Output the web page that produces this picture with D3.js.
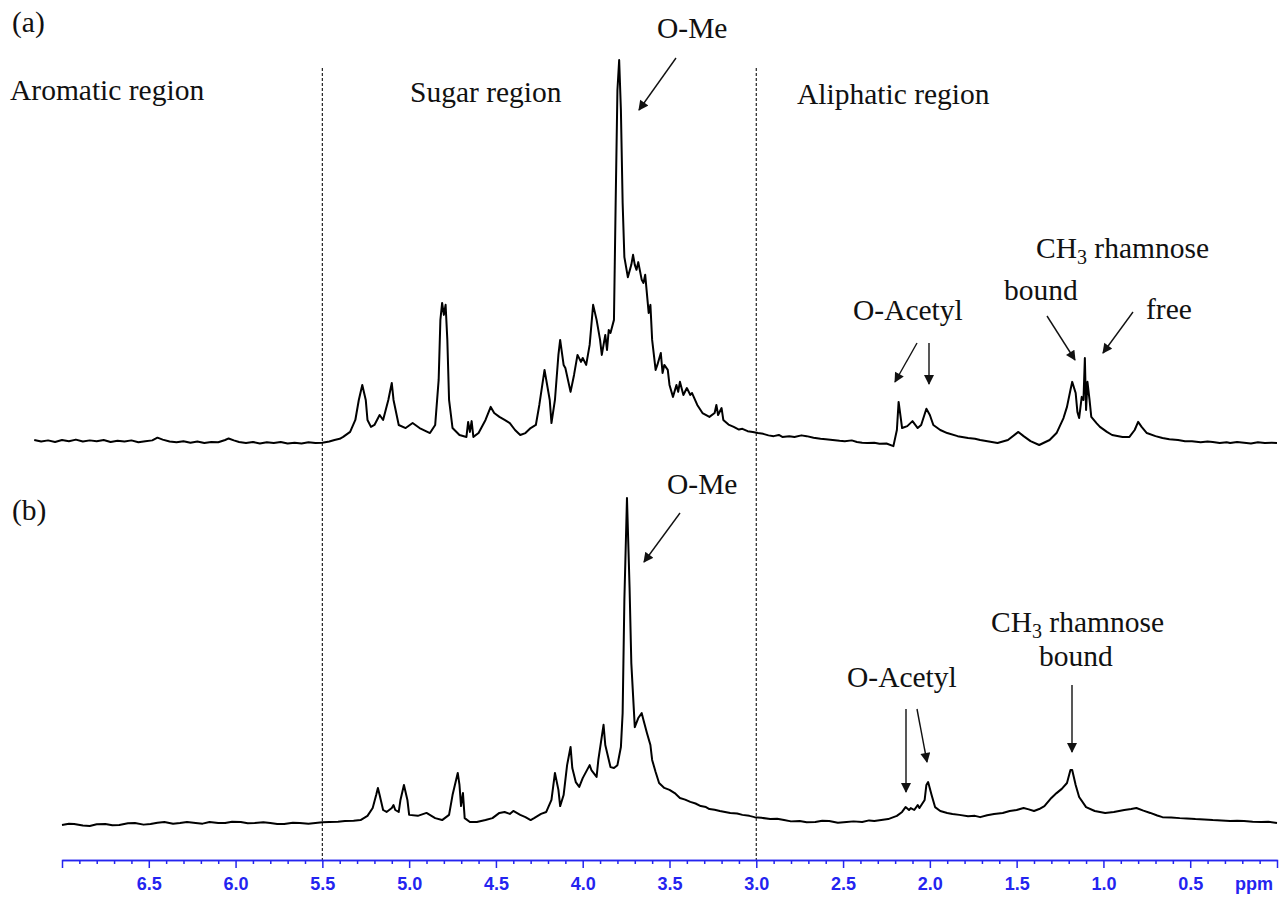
<!DOCTYPE html>
<html>
<head>
<meta charset="utf-8">
<script src="https://cdn.jsdelivr.net/npm/d3@7"></script>
<style>
  html, body { margin: 0; padding: 0; background: #fff; }
  svg { display: block; }
  .lbl { font-family: "Liberation Serif", "Times New Roman", serif; font-size: 29.5px; fill: #111; }
  .axis text { font-family: "Liberation Sans", Arial, sans-serif; font-weight: bold; font-size: 18px; fill: #2424f0; }
  .axis path, .axis line { stroke: #2424f0; stroke-width: 1.5; }
</style>
</head>
<body>
<svg id="chart"></svg>
<script>
// Spectrum (a): [ppm, relative intensity]
const specA = [
  [7.16, 1.3], [7.12, 0.9], [7.08, 1.2], [7.04, 0.8], [7.0, 1.3], [6.96, 1.0], [6.92, 1.4], [6.88, 0.9],
  [6.84, 1.2], [6.8, 1.0], [6.76, 1.3], [6.72, 0.8], [6.68, 1.1], [6.64, 0.9], [6.6, 1.2], [6.56, 0.7],
  [6.52, 1.0], [6.48, 1.2], [6.45, 1.9], [6.42, 1.4], [6.38, 0.9], [6.34, 0.7], [6.3, 1.0], [6.26, 0.6],
  [6.22, 0.9], [6.18, 0.5], [6.14, 0.8], [6.1, 0.7], [6.06, 1.3], [6.04, 1.7], [6.01, 1.2], [5.98, 0.8],
  [5.94, 0.5], [5.9, 0.8], [5.86, 0.4], [5.82, 0.7], [5.78, 0.5], [5.74, 0.8], [5.7, 0.4], [5.66, 0.6],
  [5.62, 0.4], [5.58, 0.7], [5.54, 0.5], [5.5, 0.6], [5.46, 0.9], [5.43, 1.3], [5.4, 1.6], [5.38, 2.1],
  [5.34, 3.4], [5.31, 6.5], [5.29, 11.7], [5.27, 15.6], [5.25, 11.7], [5.24, 6.5], [5.22, 4.7], [5.2, 5.2],
  [5.17, 7.8], [5.15, 6.5], [5.12, 11.7], [5.1, 16.1], [5.09, 11.7], [5.06, 5.2], [5.02, 4.4], [4.98, 5.7],
  [4.94, 4.4], [4.88, 3.1], [4.85, 5.2], [4.83, 16.9], [4.82, 32.5], [4.81, 36.9], [4.8, 33.8], [4.79, 36.4],
  [4.78, 27.3], [4.77, 11.7], [4.75, 4.4], [4.71, 2.6], [4.67, 2.1], [4.66, 6.0], [4.65, 3.4], [4.64, 6.2],
  [4.63, 2.1], [4.6, 3.1], [4.56, 6.5], [4.53, 9.9], [4.51, 8.3], [4.48, 7.3], [4.45, 6.5], [4.42, 5.7],
  [4.39, 3.9], [4.36, 2.6], [4.33, 3.1], [4.3, 4.4], [4.27, 5.2], [4.25, 10.4], [4.22, 19.5], [4.19, 11.7],
  [4.18, 5.7], [4.16, 11.7], [4.14, 23.4], [4.13, 27.3], [4.11, 20.8], [4.1, 20.0], [4.07, 13.8], [4.05, 18.2],
  [4.03, 23.4], [4.01, 21.6], [4.0, 22.6], [3.98, 20.8], [3.96, 26.0], [3.94, 36.4], [3.92, 32.5], [3.9, 27.3],
  [3.89, 23.4], [3.87, 28.6], [3.86, 24.7], [3.85, 29.9], [3.84, 29.1], [3.82, 32.5], [3.81, 63.6], [3.8, 92.2],
  [3.79, 100], [3.78, 87.0], [3.77, 62.9], [3.76, 48.8], [3.74, 43.6], [3.72, 46.8], [3.71, 49.4], [3.7, 46.8],
  [3.69, 45.5], [3.68, 47.5], [3.66, 42.9], [3.65, 42.1], [3.64, 44.2], [3.62, 34.3], [3.61, 36.4], [3.6, 27.3],
  [3.58, 19.5], [3.57, 20.8], [3.55, 23.9], [3.54, 18.7], [3.53, 20.8], [3.51, 19.5], [3.5, 15.6], [3.48, 12.5],
  [3.46, 15.6], [3.45, 13.8], [3.44, 16.4], [3.42, 13.0], [3.4, 14.8], [3.38, 13.0], [3.37, 13.5], [3.34, 10.4],
  [3.31, 8.3], [3.27, 7.3], [3.24, 8.3], [3.23, 10.4], [3.22, 7.8], [3.2, 9.6], [3.19, 6.5], [3.16, 5.3],
  [3.13, 4.7], [3.1, 4.0], [3.08, 4.2], [3.05, 3.6], [3.02, 3.4], [2.99, 3.1], [2.96, 2.9], [2.93, 2.5],
  [2.9, 2.3], [2.87, 2.6], [2.85, 2.1], [2.81, 2.3], [2.78, 2.1], [2.74, 2.5], [2.71, 2.3], [2.67, 1.9],
  [2.63, 1.6], [2.6, 1.5], [2.56, 1.3], [2.52, 1.1], [2.49, 1.0], [2.45, 1.2], [2.42, 0.8], [2.39, 0.6],
  [2.36, 0.5], [2.32, 0.6], [2.29, 0.3], [2.25, 0.4], [2.21, -0.3], [2.19, 3.9], [2.18, 11.2], [2.17, 7.8],
  [2.16, 4.4], [2.13, 4.9], [2.1, 6.2], [2.07, 4.4], [2.05, 5.2], [2.02, 9.4], [2.0, 7.8], [1.98, 5.2],
  [1.94, 3.9], [1.9, 3.1], [1.84, 2.3], [1.78, 1.8], [1.74, 1.6], [1.71, 1.3], [1.66, 0.9], [1.61, 0.5],
  [1.55, 1.3], [1.49, 3.4], [1.46, 2.3], [1.42, 1.0], [1.37, 0.0], [1.31, 1.3], [1.27, 3.1], [1.23, 7.0],
  [1.21, 9.9], [1.19, 14.3], [1.18, 16.4], [1.16, 13.5], [1.15, 8.6], [1.14, 7.0], [1.125, 12.5], [1.115, 11.7],
  [1.107, 22.6], [1.1, 9.1], [1.092, 16.4], [1.08, 11.7], [1.07, 7.3], [1.04, 5.7], [1.02, 4.7], [0.98, 3.4],
  [0.95, 2.6], [0.89, 2.1], [0.85, 2.1], [0.82, 3.9], [0.8, 6.0], [0.78, 4.7], [0.75, 3.1], [0.7, 2.3],
  [0.66, 1.8], [0.62, 1.5], [0.57, 1.3], [0.53, 1.0], [0.49, 1.0], [0.44, 0.7], [0.4, 0.9], [0.37, 0.8],
  [0.33, 0.5], [0.29, 0.7], [0.27, 0.5], [0.23, 0.8], [0.19, 0.6], [0.15, 0.4], [0.11, 0.7], [0.07, 0.5],
  [0.03, 0.6], [0.0, 0.5]
];

// Spectrum (b): [ppm, relative intensity]
const specB = [
  [7.0, -0.6], [6.96, -0.2], [6.93, -0.3], [6.88, -0.8], [6.84, -0.9], [6.8, -0.4], [6.75, -0.3], [6.71, -0.7],
  [6.67, -0.6], [6.62, -0.1], [6.58, 0.0], [6.53, -0.5], [6.49, -0.3], [6.45, 0.1], [6.41, 0.3], [6.36, -0.2],
  [6.32, 0.0], [6.28, 0.3], [6.23, 0.0], [6.19, -0.2], [6.15, 0.3], [6.1, 0.0], [6.06, 0.0], [6.02, 0.4],
  [5.97, 0.3], [5.93, -0.1], [5.89, 0.0], [5.84, 0.2], [5.8, 0.0], [5.76, -0.3], [5.72, -0.3], [5.67, 0.1],
  [5.63, 0.0], [5.58, -0.2], [5.54, 0.0], [5.5, 0.2], [5.46, 0.3], [5.41, 0.4], [5.37, 0.6], [5.32, 0.7],
  [5.28, 0.9], [5.24, 2.2], [5.21, 4.6], [5.19, 8.6], [5.18, 10.8], [5.17, 8.6], [5.15, 4.0], [5.13, 3.4],
  [5.1, 4.6], [5.09, 5.5], [5.08, 4.0], [5.06, 3.4], [5.05, 7.1], [5.03, 11.7], [5.01, 7.1], [5.0, 2.5],
  [4.95, 2.2], [4.9, 3.1], [4.85, 1.5], [4.81, 0.9], [4.77, 2.5], [4.75, 8.6], [4.72, 15.4], [4.71, 11.7],
  [4.701, 5.2], [4.69, 9.2], [4.68, 1.5], [4.65, 0.3], [4.61, 0.3], [4.56, 0.9], [4.52, 1.5], [4.48, 3.1],
  [4.45, 3.4], [4.42, 2.8], [4.4, 3.7], [4.36, 2.5], [4.33, 1.8], [4.3, 0.9], [4.28, 1.5], [4.24, 2.8],
  [4.21, 3.4], [4.18, 7.1], [4.16, 15.4], [4.14, 10.2], [4.13, 5.2], [4.11, 8.6], [4.09, 17.8], [4.07, 23.4],
  [4.06, 16.9], [4.04, 12.6], [4.02, 11.1], [4.0, 13.8], [3.96, 17.8], [3.95, 16.3], [3.92, 14.2], [3.91, 19.4],
  [3.88, 30.2], [3.87, 24.0], [3.84, 17.2], [3.82, 16.9], [3.8, 17.8], [3.78, 23.4], [3.77, 33.8], [3.76, 68.6],
  [3.745, 100], [3.73, 72.3], [3.72, 49.2], [3.7, 29.5], [3.68, 32.3], [3.66, 33.8], [3.65, 31.7], [3.63, 27.7],
  [3.61, 24.0], [3.6, 19.4], [3.58, 15.7], [3.56, 12.3], [3.53, 10.8], [3.5, 10.2], [3.47, 9.2], [3.44, 7.7],
  [3.41, 7.2], [3.38, 6.5], [3.35, 6.0], [3.32, 5.2], [3.29, 4.9], [3.27, 4.3], [3.24, 4.1], [3.21, 3.7],
  [3.18, 3.4], [3.15, 3.1], [3.11, 2.9], [3.08, 2.5], [3.04, 2.2], [3.01, 1.8], [2.97, 1.6], [2.92, 1.2],
  [2.88, 1.3], [2.84, 0.9], [2.8, 0.5], [2.75, 0.6], [2.71, 0.2], [2.66, 0.3], [2.62, 0.7], [2.58, 0.6],
  [2.53, 0.1], [2.48, 0.3], [2.44, 0.5], [2.39, 0.3], [2.35, 0.8], [2.32, 0.6], [2.28, 0.9], [2.24, 1.2],
  [2.19, 2.2], [2.16, 3.4], [2.14, 4.9], [2.12, 4.0], [2.11, 4.6], [2.09, 4.0], [2.07, 5.5], [2.06, 4.6],
  [2.03, 7.1], [2.02, 11.7], [2.01, 12.6], [1.99, 8.6], [1.97, 4.9], [1.94, 3.7], [1.9, 3.1], [1.87, 2.8],
  [1.83, 2.5], [1.78, 2.1], [1.74, 2.2], [1.71, 1.8], [1.67, 2.4], [1.63, 2.8], [1.58, 3.1], [1.54, 3.7],
  [1.5, 4.0], [1.46, 4.6], [1.43, 4.2], [1.4, 3.7], [1.37, 4.3], [1.34, 5.2], [1.3, 7.7], [1.27, 9.2],
  [1.24, 10.5], [1.21, 12.3], [1.19, 16.3], [1.18, 16.3], [1.16, 11.7], [1.14, 8.0], [1.1, 4.9], [1.05, 3.7],
  [0.99, 3.1], [0.94, 3.4], [0.88, 4.0], [0.84, 4.3], [0.81, 4.6], [0.77, 3.8], [0.73, 3.1], [0.69, 2.3],
  [0.66, 1.8], [0.61, 1.7], [0.56, 1.5], [0.52, 1.4], [0.47, 1.2], [0.42, 1.1], [0.37, 0.9], [0.32, 0.8],
  [0.27, 0.6], [0.23, 0.7], [0.19, 0.6], [0.14, 0.4], [0.09, 0.3], [0.05, 0.4], [0.0, 0.0]
];

const majorTicks = [6.5, 6.0, 5.5, 5.0, 4.5, 4.0, 3.5, 3.0, 2.5, 2.0, 1.5, 1.0, 0.5];
const regionLines = [5.5, 3.0];
const regionNames = ["Aromatic region", "Sugar region", "Aliphatic region"];
const panelNames = ["(a)", "(b)"];

// Chart Dimensions
const width = 1282;
const height = 898;

const svg = d3.select("#chart").attr("width", width).attr("height", height);

// Scales
const xScale = d3.scaleLinear().domain([7.0, 0.0]).range([62, 1277]);
const yA = d3.scaleLinear().domain([0, 100]).range([445, 60]);
const yB = d3.scaleLinear().domain([0, 100]).range([823, 498]);

// Region separators
svg.selectAll(".sep")
  .data(regionLines)
  .enter()
  .append("line")
  .attr("class", "sep")
  .attr("x1", (d) => xScale(d))
  .attr("x2", (d) => xScale(d))
  .attr("y1", 68)
  .attr("y2", 860)
  .attr("stroke", "#222")
  .attr("stroke-width", 1.2)
  .attr("stroke-dasharray", "3,2");

// Spectra
const lineA = d3.line().x((d) => xScale(d[0])).y((d) => yA(d[1]));
const lineB = d3.line().x((d) => xScale(d[0])).y((d) => yB(d[1]));

svg.append("path")
  .datum(specA)
  .attr("d", lineA)
  .attr("fill", "none")
  .attr("stroke", "#000")
  .attr("stroke-width", 2)
  .attr("stroke-linejoin", "round");

svg.append("path")
  .datum(specB)
  .attr("d", lineB)
  .attr("fill", "none")
  .attr("stroke", "#000")
  .attr("stroke-width", 2)
  .attr("stroke-linejoin", "round");

// Axis
const minorTicks = d3.range(1, 70).map((i) => i / 10).filter((v) => Math.round(v * 10) % 5 !== 0);

svg.append("g")
  .attr("class", "axis")
  .attr("transform", "translate(0, 860)")
  .call(d3.axisBottom(xScale).tickValues(minorTicks).tickSize(4).tickSizeOuter(0).tickFormat(""));

svg.append("g")
  .attr("class", "axis")
  .attr("transform", "translate(0, 860)")
  .call(d3.axisBottom(xScale).tickValues(majorTicks).tickSize(8).tickSizeOuter(8).tickPadding(9)
    .tickFormat(d3.format(".1f")));

svg.append("text")
  .attr("x", 1235)
  .attr("y", 890)
  .style("font-family", "'Liberation Sans', Arial, sans-serif")
  .style("font-weight", "bold")
  .style("font-size", "18px")
  .style("fill", "#2424f0")
  .text("ppm");

// Labels
function label(x, y, txt) {
  return svg.append("text").attr("class", "lbl").attr("x", x).attr("y", y).text(txt);
}

label(12, 32, panelNames[0]);
label(12, 520, panelNames[1]);
label(10, 100, regionNames[0]);
label(410, 102, regionNames[1]);
label(797, 104, regionNames[2]);

label(657, 38, "O-Me");
label(667, 494, "O-Me");
label(853, 320, "O-Acetyl");
label(847, 687, "O-Acetyl");
label(1004, 300, "bound");
label(1146, 319, "free");
label(1039, 666, "bound");

function ch3(x, y) {
  const t = svg.append("text").attr("class", "lbl").attr("x", x).attr("y", y);
  t.append("tspan").text("CH");
  t.append("tspan").attr("dy", 6).style("font-size", "20px").text("3");
  t.append("tspan").attr("dy", -6).text(" rhamnose");
}
ch3(1036, 258);
ch3(991, 632);

// Arrows
svg.append("defs")
  .append("marker")
  .attr("id", "head")
  .attr("viewBox", "0 0 10 10")
  .attr("refX", 9)
  .attr("refY", 5)
  .attr("markerWidth", 11)
  .attr("markerHeight", 10)
  .attr("markerUnits", "userSpaceOnUse")
  .attr("orient", "auto")
  .append("path")
  .attr("d", "M0,0 L10,5 L0,10 Z")
  .attr("fill", "#111");

const arrows = [
  [676, 58, 639, 110],
  [917, 343, 895, 382],
  [929, 343, 929, 384],
  [1047, 316, 1075, 360],
  [1133, 312, 1103, 353],
  [680, 513, 644, 562],
  [906, 709, 906, 792],
  [917, 709, 927, 762],
  [1072, 685, 1072, 752]
];

svg.selectAll(".arrow")
  .data(arrows)
  .enter()
  .append("line")
  .attr("class", "arrow")
  .attr("x1", (d) => d[0])
  .attr("y1", (d) => d[1])
  .attr("x2", (d) => d[2])
  .attr("y2", (d) => d[3])
  .attr("stroke", "#111")
  .attr("stroke-width", 1.4)
  .attr("marker-end", "url(#head)");
</script>
</body>
</html>
